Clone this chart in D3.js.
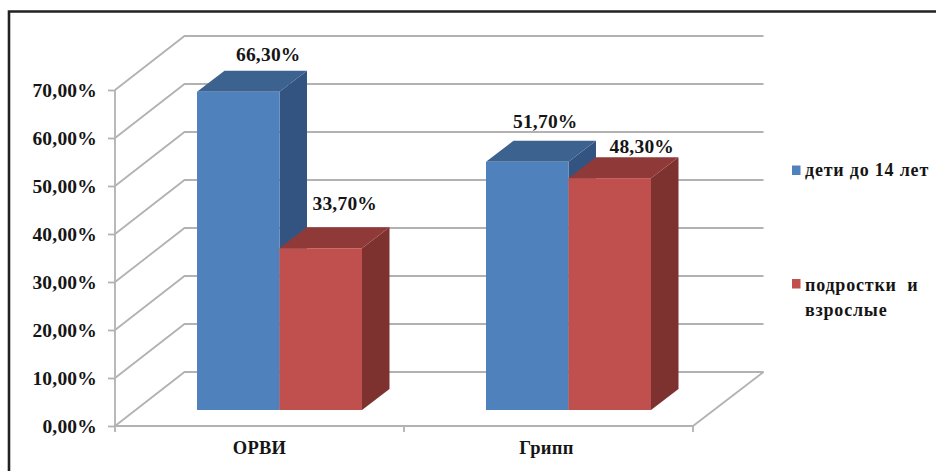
<!DOCTYPE html>
<html lang="ru">
<head>
<meta charset="utf-8">
<style>
  html, body { margin: 0; padding: 0; background: #fff; }
  svg { display: block; }
  text { font-family: "Liberation Serif", serif; font-weight: bold; fill: #151515; }
  .val { font-size: 19.5px; letter-spacing: .2px; }
  .cat { font-size: 18.5px; letter-spacing: .3px; }
  .leg { font-size: 18px; letter-spacing: .8px; }
</style>
<script src="https://cdnjs.cloudflare.com/ajax/libs/d3/7.8.5/d3.min.js"></script>
</head>
<body>
<svg id="chart" width="936" height="471"></svg>
<script>
const categories = ["ОРВИ", "Грипп"];
const seriesLines = [["дети до 14 лет"], ["подростки  и", "взрослые"]];
const childrenValues = [66.3, 51.7];
const adultValues = [33.7, 48.3];
const yTicks = [0, 10, 20, 30, 40, 50, 60, 70];

const svg = d3.select("#chart");
const pct = v => v.toFixed(2).replace(".", ",") + "%";

// Front plane of the 3D box
const x = d3.scaleBand().domain(categories).range([115, 693]);
const y = d3.scaleLinear().domain([0, 70]).range([426, 90]);

// Projection offsets: full box depth and bar depth
const wall = { dx: 69.5, dy: -54 };
const bar = { dx: 27.5, dy: -21 };
const barCenterShift = { dx: 20, dy: -16 };
const barWidth = 82.5;

const gridColor = "#b2b2b2";
const gridGroup = svg.append("g")
  .attr("fill", "none").attr("stroke", gridColor).attr("stroke-width", 1.8);

// Frame along the top and left edges
svg.append("path")
  .attr("d", d3.line()([[9, 471], [9, 11.5], [936, 11.5]]))
  .attr("fill", "none").attr("stroke", "#222").attr("stroke-width", 2.6);

// Wall gridlines: diagonal on the side wall, then horizontal along the back
gridGroup.selectAll("path.grid").data(yTicks).join("path")
  .attr("class", "grid")
  .attr("d", t => d3.line()([
    [x.range()[0], y(t)],
    [x.range()[0] + wall.dx, y(t) + wall.dy],
    [x.range()[1] + wall.dx + 1, y(t) + wall.dy]
  ]));

// Right edge of the floor
gridGroup.append("path").attr("d", d3.line()([
  [x.range()[1], y(0)],
  [x.range()[1] + wall.dx + 1, y(0) + wall.dy]
]));

// Value axis
const yAxis = svg.append("g").attr("transform", `translate(${x.range()[0]},0)`)
  .call(d3.axisLeft(y).tickValues(yTicks).tickFormat(pct).tickSize(7).tickPadding(11));
yAxis.selectAll("path, line").attr("stroke", gridColor).attr("stroke-width", 1.8);
yAxis.select(".domain").attr("d", d3.line()([[0, y(70)], [0, y(0)]]));
yAxis.selectAll("text").attr("class", "val").attr("fill", null).attr("font-size", null).attr("font-family", null);

// Category axis with ticks on the band edges
const xAxis = svg.append("g");
xAxis.append("line")
  .attr("x1", x.range()[0]).attr("x2", x.range()[1])
  .attr("y1", y(0)).attr("y2", y(0))
  .attr("stroke", gridColor).attr("stroke-width", 2);
xAxis.selectAll("line.tick")
  .data([...categories.map(c => x(c)), x.range()[1]]).join("line")
  .attr("class", "tick")
  .attr("x1", d => d).attr("x2", d => d)
  .attr("y1", y(0)).attr("y2", y(0) + 6)
  .attr("stroke", gridColor).attr("stroke-width", 1.8);
xAxis.selectAll("text").data(categories).join("text")
  .attr("class", "cat")
  .attr("x", (d, i) => x(d) + x.bandwidth() / 2 - i * 2)
  .attr("y", 454)
  .attr("text-anchor", "middle")
  .text(d => d);

// Bars, one 3D box per value: side face, top face, front face
const series = [
  { values: childrenValues, front: "#4f81bd", top: "#3c6290", side: "#335480" },
  { values: adultValues, front: "#c0504d", top: "#8f3a38", side: "#7d3230" }
];
const poly = pts => d3.line()(pts) + "Z";

categories.forEach((cat, ci) => {
  series.forEach((s, si) => {
    const v = s.values[ci];
    const left = x(cat) + x.bandwidth() / 2 + barCenterShift.dx + (si - 1) * barWidth;
    const right = left + barWidth;
    const top = y(v) + barCenterShift.dy;
    const base = y(0) + barCenterShift.dy;
    const g = svg.append("g");
    g.append("path").attr("fill", s.side).attr("d", poly([
      [right, top], [right + bar.dx, top + bar.dy],
      [right + bar.dx, base + bar.dy], [right, base]
    ]));
    g.append("path").attr("fill", s.top).attr("d", poly([
      [left, top], [left + bar.dx, top + bar.dy],
      [right + bar.dx, top + bar.dy], [right, top]
    ]));
    g.append("rect").attr("fill", s.front)
      .attr("x", left).attr("y", top)
      .attr("width", barWidth).attr("height", base - top);
  });
});

// Value labels, each nudged clear of the neighbouring box
const labelNudge = [
  [[30, -31], [24, -38]],
  [[18, -34], [32, -25]]
];
categories.forEach((cat, ci) => {
  series.forEach((s, si) => {
    const v = s.values[ci];
    const cx = x(cat) + x.bandwidth() / 2 + barCenterShift.dx + (si - 0.5) * barWidth;
    const [nx, ny] = labelNudge[ci][si];
    svg.append("text").attr("class", "val")
      .attr("x", cx + nx)
      .attr("y", y(v) + barCenterShift.dy + ny)
      .attr("text-anchor", "middle")
      .text(pct(v));
  });
});

// Legend
const legendItems = [
  { color: series[0].front, swatchY: 165.5, lines: seriesLines[0], lineY: [176] },
  { color: series[1].front, swatchY: 279, lines: seriesLines[1], lineY: [291, 316] }
];
legendItems.forEach(item => {
  svg.append("rect").attr("x", 792).attr("y", item.swatchY)
    .attr("width", 8.5).attr("height", 9.5).attr("fill", item.color);
  item.lines.forEach((line, i) => {
    svg.append("text").attr("class", "leg")
      .style("white-space", "pre")
      .attr("x", 805).attr("y", item.lineY[i]).text(line);
  });
});
</script>
</body>
</html>
